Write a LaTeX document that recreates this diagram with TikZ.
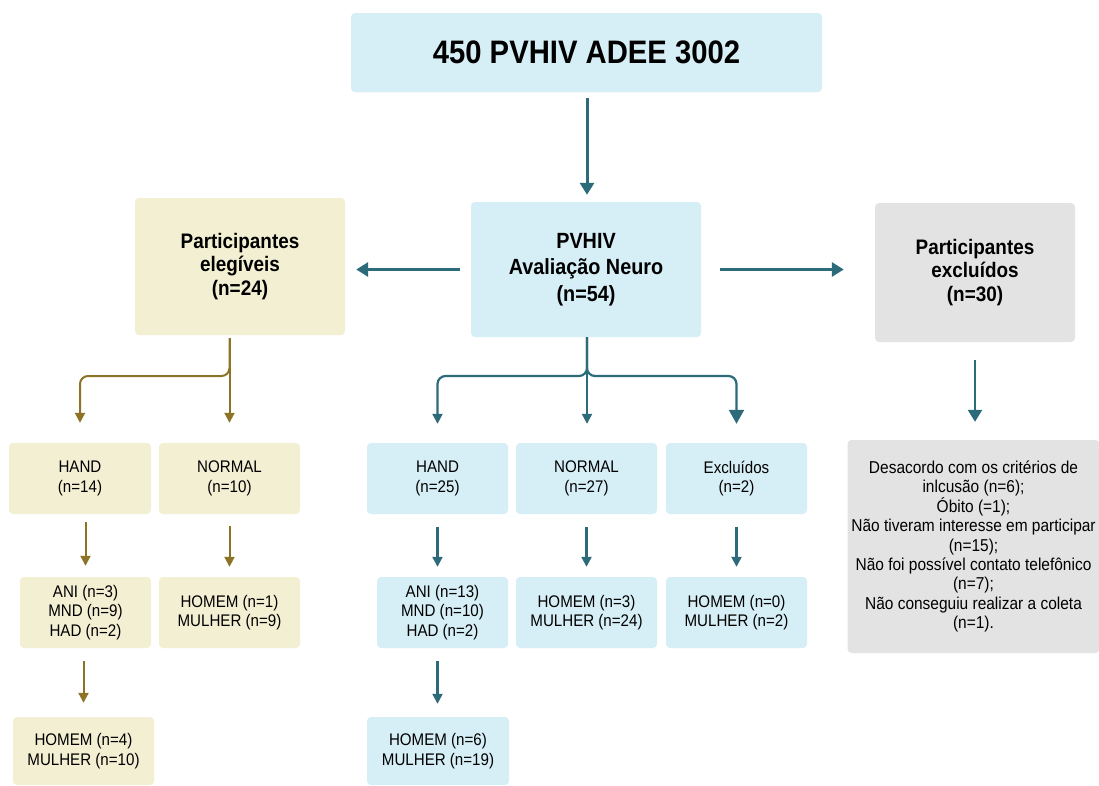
\documentclass[tikz,border=0pt]{standalone}
\usepackage{fontspec}
\setmainfont{Liberation Sans}[FakeStretch=0.9]
\usetikzlibrary{arrows.meta}
\definecolor{bluefill}{HTML}{D6EEF5}
\definecolor{beigefill}{HTML}{F3EFD3}
\definecolor{greyfill}{HTML}{E3E3E3}
\definecolor{tealc}{HTML}{2D6B7B}
\definecolor{brownc}{HTML}{8C7326}
\begin{document}
\begin{tikzpicture}[x=1pt,y=-1pt,
  box/.style={draw=none, rounded corners=4pt, inner sep=0pt, align=center, text=black},
  bbox/.style={box, fill=bluefill},
  ybox/.style={box, fill=beigefill},
  gbox/.style={box, fill=greyfill},
  small/.style={minimum width=141pt, minimum height=71pt, font=\fontsize{16.8}{19.5}\selectfont},
  big/.style={font=\bfseries\fontsize{21}{23.5}\selectfont},
  tarrow/.style={draw=tealc, line width=3pt, -{Triangle[width=14pt,length=12pt]}},
  tbranch/.style={draw=tealc, line width=2.2pt, rounded corners=8pt, -{Triangle[width=10pt,length=10pt]}},
  tbranchbig/.style={draw=tealc, line width=2.2pt, rounded corners=8pt, -{Triangle[width=15pt,length=14pt]}},
  ybranch/.style={draw=brownc, line width=2pt, rounded corners=8pt, -{Triangle[width=10pt,length=10pt]}},
]
\clip (0,0) rectangle (1099,785);
\fill[white] (0,0) rectangle (1099,785);

% main boxes
\node[bbox, minimum width=471pt, minimum height=79pt, font=\bfseries\fontsize{32.5}{35}\selectfont] (top) at (586.5,52.5) {450 PVHIV ADEE 3002};
\node[bbox, minimum width=230pt, minimum height=135pt, font=\bfseries\fontsize{22}{26.5}\selectfont] (center) at (586,269.5) {PVHIV\\Avaliação Neuro\\(n=54)};
\node[ybox, big, minimum width=210pt, minimum height=137pt] (elig) at (240,266.5) {Participantes\\elegíveis\\(n=24)};
\node[gbox, big, minimum width=200pt, minimum height=139pt] (excl) at (975,272.5) {Participantes\\excluídos\\(n=30)};

% left (beige) branch
\node[ybox, small, minimum width=142pt] (handL) at (80,478.5) {HAND\\(n=14)};
\node[ybox, small] (normL) at (229.5,478.5) {NORMAL\\(n=10)};
\node[ybox, small, minimum width=131pt] (aniL) at (85.5,612.5) {ANI (n=3)\\MND (n=9)\\HAD (n=2)};
\node[ybox, small] (homL) at (229.5,612.5) {HOMEM (n=1)\\MULHER (n=9)};
\node[ybox, small, minimum height=68pt] (botL) at (83.5,751) {HOMEM (n=4)\\MULHER (n=10)};

% center (blue) branch
\node[bbox, small] (handB) at (437.5,478.5) {HAND\\(n=25)};
\node[bbox, small] (normB) at (586.5,478.5) {NORMAL\\(n=27)};
\node[bbox, small] (exclB) at (736.5,478.5) {Excluídos\\(n=2)};
\node[bbox, small, minimum width=131pt] (aniB) at (442.5,612.5) {ANI (n=13)\\MND (n=10)\\HAD (n=2)};
\node[bbox, small] (homB) at (586.5,612.5) {HOMEM (n=3)\\MULHER (n=24)};
\node[bbox, small] (hom2B) at (736.5,612.5) {HOMEM (n=0)\\MULHER (n=2)};
\node[bbox, small, minimum width=142pt, minimum height=68pt] (botB) at (438,751) {HOMEM (n=6)\\MULHER (n=19)};

% grey details box
\node[gbox, minimum width=252pt, minimum height=213pt, font=\fontsize{17.2}{19.4}\selectfont] (greyd) at (973.5,546.5)
  {Desacordo com os critérios de\\inlcusão (n=6);\\Óbito (=1);\\Não tiveram interesse em participar\\(n=15);\\Não foi possível contato telefônico\\(n=7);\\Não conseguiu realizar a coleta\\(n=1).};

% junction coordinates
\coordinate (jL) at (229.5,376);
\coordinate (jB) at (587,376);

% main arrows
\draw[tarrow, shorten <=6pt, shorten >=7pt] (top.south -| jB) -- (center.north -| jB);
\draw[tarrow, shorten <=11pt, shorten >=11pt] (center.west) -- (elig.east |- center.west);
\draw[tarrow, shorten <=19pt, shorten >=31pt] (center.east) -- (excl.west |- center.east);
\draw[tarrow, line width=2.6pt, shorten <=18pt, shorten >=18pt] (excl.south) -- (greyd.north -| excl.south);

% beige branches
\draw[ybranch, shorten <=3pt, shorten >=20pt] (elig.south -| jL) -- (jL) -| (handL.north);
\draw[ybranch, shorten <=3pt, shorten >=20pt] (elig.south -| jL) -- (normL.north);
\draw[ybranch, shorten <=8pt, shorten >=11pt] (aniL.north |- handL.south) -- (aniL.north);
\draw[ybranch, shorten <=12pt, shorten >=10pt] (homL.north |- normL.south) -- (homL.north);
\draw[ybranch, shorten <=13pt, shorten >=14pt] (botL.north |- aniL.south) -- (botL.north);

% blue branches
\draw[tbranch, shorten >=19pt] (center.south -| jB) -- (jB) -| (handB.north);
\draw[tbranch, shorten >=19pt] (center.south -| jB) -- (normB.north -| jB);
\draw[tbranchbig, shorten >=19pt] (center.south -| jB) -- (jB) -| (exclB.north);
\draw[tbranch, shorten <=13pt, shorten >=10pt] (handB.south) -- (handB.south |- aniB.north);
\draw[tbranch, shorten <=13pt, shorten >=10pt] (normB.south) -- (homB.north);
\draw[tbranch, shorten <=13pt, shorten >=10pt] (exclB.south) -- (hom2B.north);
\draw[tbranch, shorten <=13pt, shorten >=13pt] (aniB.south -| handB.south) -- (botB.north -| handB.south);
\end{tikzpicture}
\end{document}
